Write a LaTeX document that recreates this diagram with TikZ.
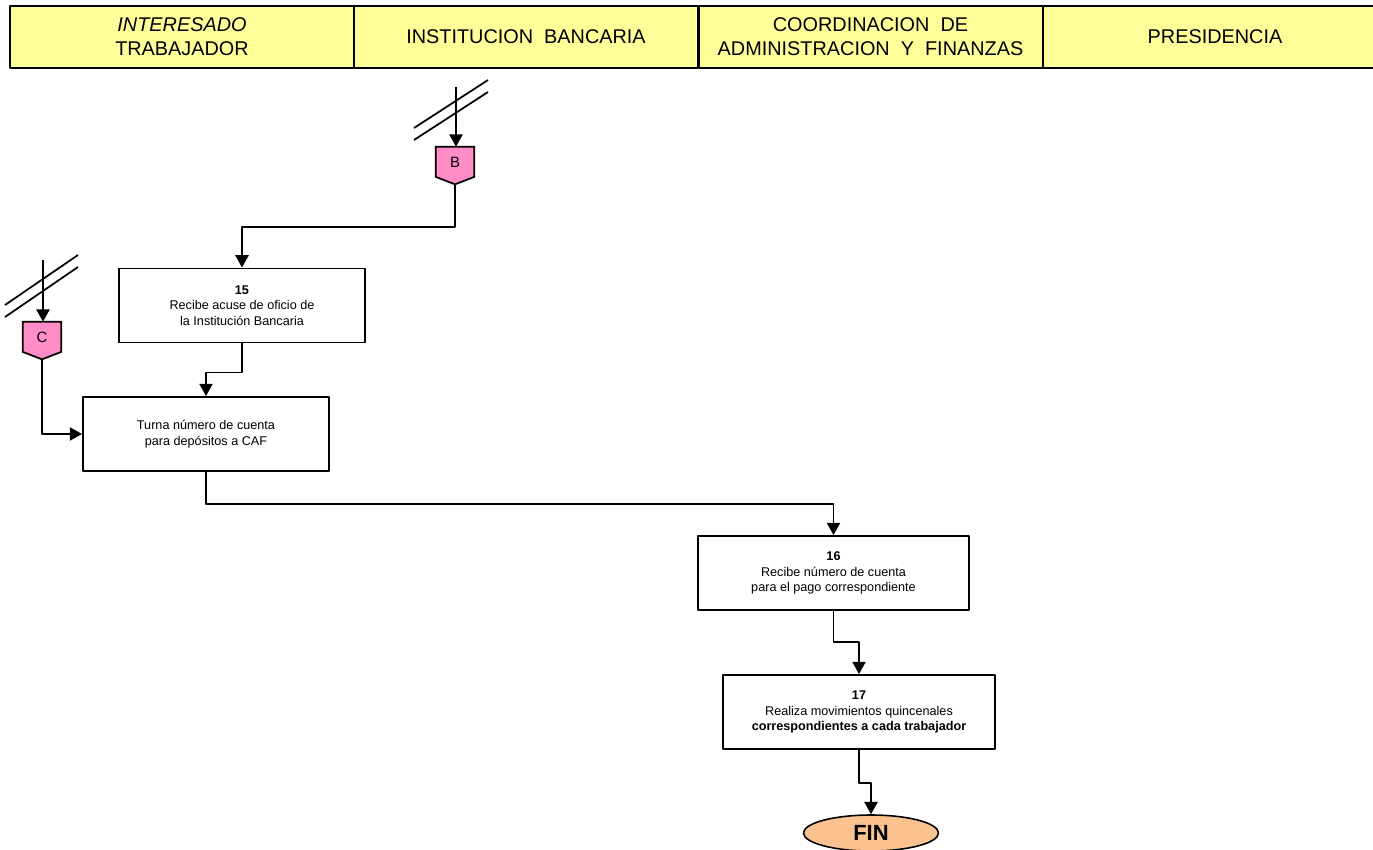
\documentclass[tikz,border=0pt]{standalone}
\usepackage{fontspec}
\setmainfont{Liberation Sans}
\usetikzlibrary{arrows.meta,positioning,shapes.geometric}
\definecolor{lanefill}{HTML}{FFFF99}
\definecolor{connfill}{HTML}{FF8CC6}
\definecolor{finfill}{HTML}{F9C28F}
\tikzset{
	lanehead/.style={draw, fill=lanefill, line width=1.1pt, minimum width=6.88cm, minimum height=1.24cm, align=center, font=\fontsize{11.3}{13.6}\selectfont},
	proc/.style={draw, line width=1.1pt, minimum height=1.48cm, align=center, font=\fontsize{7.2}{8.8}\selectfont},
	offpage/.style={minimum width=0.76cm, minimum height=0.74cm, inner sep=0pt, font=\fontsize{8.5}{10}\selectfont},
	flow/.style={line width=1.1pt, -{Triangle[length=7pt,width=7.5pt]}},
	slash/.style={line width=1pt}
}
\begin{document}
\begin{tikzpicture}[x=0.02cm, y=-0.02cm, line join=round]
	\useasboundingbox (0,0) rectangle (1373,849);
	\clip (0,0) rectangle (1373,849);
	\node[lanehead] (lane1) at (182,37) {\textit{INTERESADO}\\TRABAJADOR};
	\node[lanehead] (lane2) at (526,37) {INSTITUCION\ \ BANCARIA};
	\node[lanehead] (lane3) at (870.5,37) {COORDINACION\ \ DE\\ADMINISTRACION\ \ Y\ \ FINANZAS};
	\node[lanehead] (lane4) at (1215,37) {PRESIDENCIA};
	% conectores de pagina
	\node[offpage] (B) at (455,165.5) {};
	\node[offpage] (C) at (42,340.5) {};
	\foreach \c in {B,C}{
		\draw[line width=1pt, fill=connfill] (\c.north west) -- (\c.north east) -- ([yshift=0.15cm]\c.south east) -- (\c.south) -- ([yshift=0.15cm]\c.south west) -- cycle;
		\node[font=\fontsize{8.5}{10}\selectfont] at ([yshift=0.07cm]\c.center) {\c};
	}
	\draw[slash] (414,128) -- (488,80) (414,140) -- (488,92);
	\draw[slash] (5,305) -- (78,255) (5,317) -- (78,267);
	\coordinate (Bin) at (456,87);
	\coordinate (Cin) at (43,260);
	\draw[flow] (Bin) -- (B.north -| Bin);
	\draw[flow] (Cin) -- (C.north -| Cin);
	% actividades
	\node[proc, minimum width=4.92cm] (p15) at (242,305.5) {\textbf{15}\\Recibe acuse de oficio de\\la Institución Bancaria};
	\node[proc, minimum width=4.92cm] (turna) at (206,434) {Turna número de cuenta\\para depósitos a CAF};
	\node[proc, minimum width=5.42cm] (p16) at (833.5,573) {\textbf{16}\\Recibe número de cuenta\\para el pago correspondiente};
	\node[proc, minimum width=5.44cm] (p17) at (859,712) {\textbf{17}\\Realiza movimientos quincenales\\\textbf{correspondientes a cada trabajador}};
	\node[draw, ellipse, fill=finfill, line width=0.9pt, minimum width=2.7cm, minimum height=0.72cm, inner sep=0pt, font=\fontsize{12.5}{14}\selectfont\bfseries] (fin) at (871,833) {FIN};
	\draw[flow] (B.south) -- ++(0,43) -| (p15.north);
	\draw[flow] (p15.south) -- ++(0,29) -| (turna.north);
	\draw[flow] (C.south) |- (turna.west);
	\draw[flow] (turna.south) -- ++(0,32) -| (p16.north);
	\draw[flow] (p16.south) -- ++(0,31) -| (p17.north);
	\draw[flow] (p17.south) -- ++(0,33) -| (fin.north);
\end{tikzpicture}
\end{document}
